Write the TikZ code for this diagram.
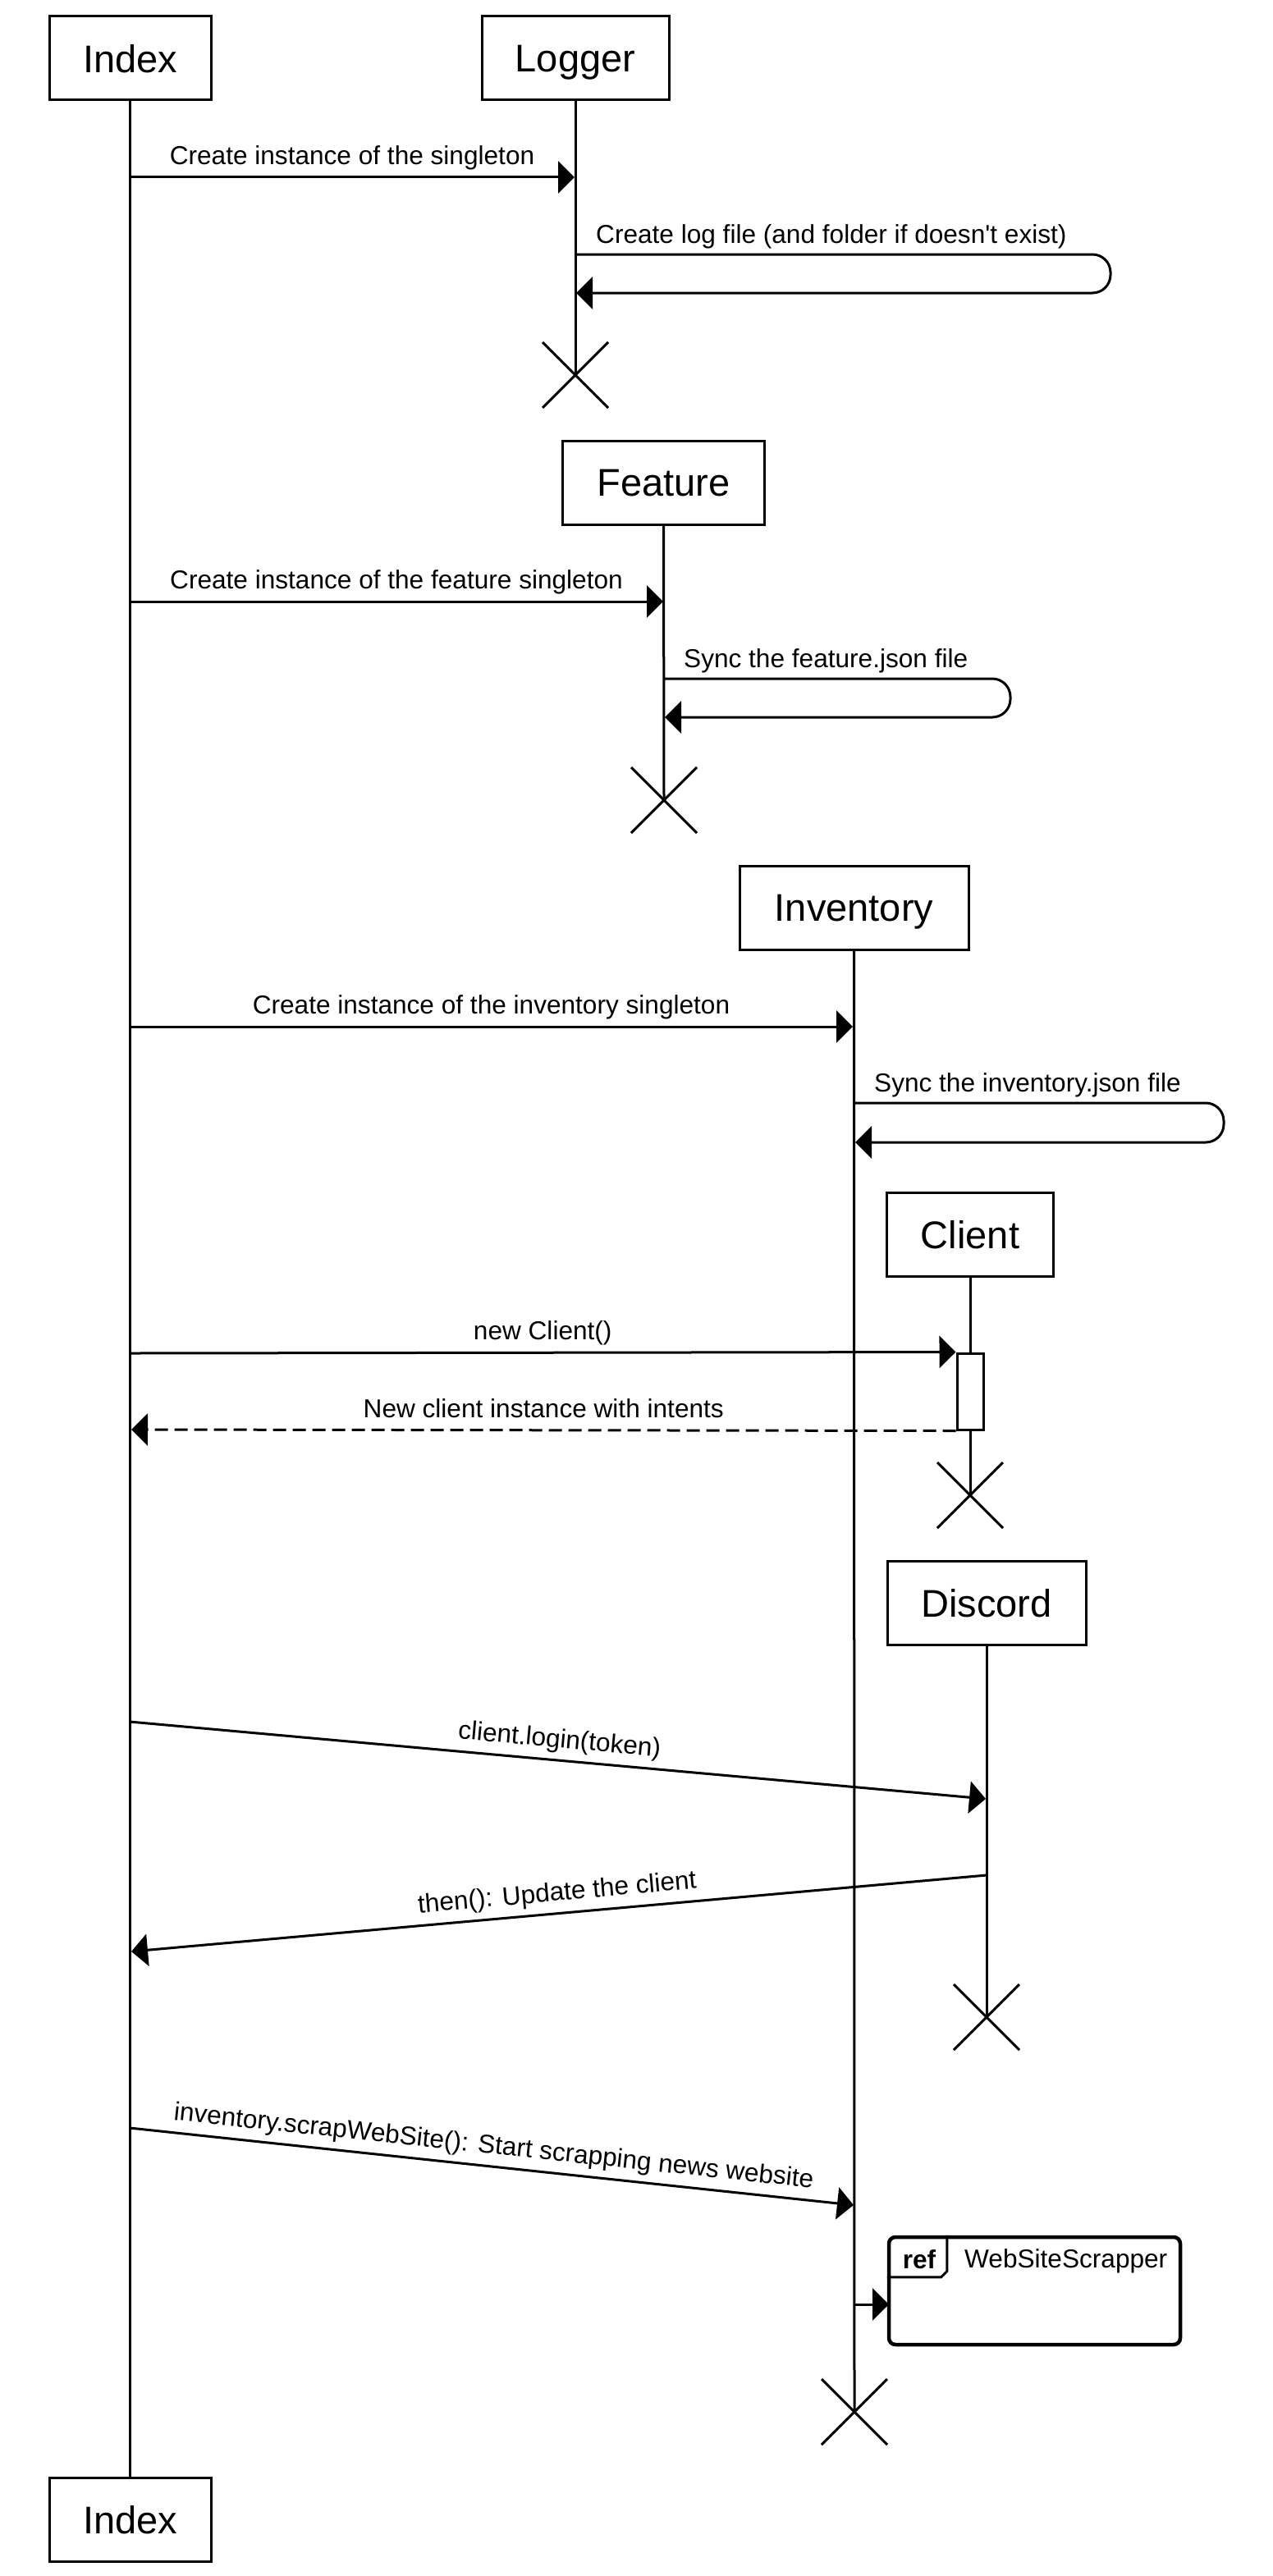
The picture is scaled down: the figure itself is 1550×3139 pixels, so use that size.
\documentclass[tikz,border=0pt]{standalone}
\usepackage{fontspec}
\setmainfont{Liberation Sans}
\usetikzlibrary{arrows.meta}
\tikzset{
  lifebox/.style={draw, line width=3pt, fill=white, minimum height=102pt, inner sep=0pt,
    text depth=0pt, font=\fontsize{47}{56}\selectfont},
  lline/.style={line width=3pt},
  msg/.style={line width=3pt, -{Triangle[length=20pt,width=39pt]}},
  retmsg/.style={msg, dash pattern=on 16pt off 8pt},
  lbl/.style={font=\fontsize{31.6}{37}\selectfont, inner sep=0pt, text depth=7pt},
  xmark/.style={line width=3pt},
}
\begin{document}
\begin{tikzpicture}[x=1pt,y=-1pt]
\useasboundingbox (0,0) rectangle (1550,3139);
\fill[white] (0,0) rectangle (1550,3139);

% lifeline heads
\node[lifebox, minimum width=197pt] (idx) at (158.5,71) {Index};
\node[lifebox, minimum width=228pt] (logger) at (701,71) {Logger};
\node[lifebox, minimum width=246pt] (feature) at (808.5,588) {Feature};
\node[lifebox, minimum width=279pt] (inv) at (1040.5,1106) {Inventory};
\node[lifebox, minimum width=203pt] (client) at (1182,1504) {Client};
\node[lifebox, minimum width=242pt] (discord) at (1202,1953.5) {Discord};
\node[lifebox, minimum width=197pt] (idxb) at (158.5,3070) {Index};

% destruction points
\coordinate (lx) at (701,457);
\coordinate (fx) at (809,975);
\coordinate (cx) at (1182,1822);
\coordinate (dx) at (1202,2458);
\coordinate (ix) at (1041,2939);

% lifelines
\draw[lline] (idx.south) -- (idxb.north);
\draw[lline] (logger.south) -- (lx);
\draw[lline] (feature.south) -- (fx);
\draw[lline] (inv.south) -- (ix);
\draw[lline] (client.south) -- (cx);
\draw[lline] (discord.south) -- (dx);

% X marks
\foreach \c in {lx,fx,cx,dx,ix}{
  \draw[xmark] (\c) ++(-40,-40) -- ++(80,80);
  \draw[xmark] (\c) ++(40,-40) -- ++(-80,80);
}

% message end points
\coordinate (a1s) at (158,216);   \coordinate (a1e) at (700,216);
\coordinate (s1a) at (701,310);   \coordinate (s1b) at (702,357);
\coordinate (a2s) at (158,733);   \coordinate (a2e) at (808,733);
\coordinate (s2a) at (809,827);   \coordinate (s2b) at (810,874);
\coordinate (a3s) at (158,1251);  \coordinate (a3e) at (1039,1251);
\coordinate (s3a) at (1041,1344); \coordinate (s3b) at (1042,1392);
\coordinate (a4s) at (158,1649);
\coordinate (a5e) at (160,1742);
\coordinate (a6s) at (158,2098);  \coordinate (a6e) at (1201,2192);
\coordinate (a7s) at (1202,2285); \coordinate (a7e) at (160,2378);
\coordinate (a8s) at (158,2593);  \coordinate (a8e) at (1040,2687);
\coordinate (a9s) at (1041,2808); \coordinate (a9e) at (1083,2808);

% activation bar
\node[draw, line width=3pt, fill=white, minimum width=32pt, minimum height=93pt, inner sep=0pt]
  (act) at (1182,1695.5) {};

% messages
\draw[msg] (a1s) -- node[lbl, midway, above=7pt] {Create instance of the singleton} (a1e);
\draw[msg, rounded corners=22pt] (s1a) -- ++(652,0) -- ++(0,47) -- (s1b);
\node[lbl, anchor=base west] (t1) at (726,296) {Create log file (and folder if doesn\textquotesingle t exist)};

\draw[msg] (a2s) -- node[lbl, midway, above=7pt] {Create instance of the feature singleton} (a2e);
\draw[msg, rounded corners=22pt] (s2a) -- ++(422,0) -- ++(0,47) -- (s2b);
\node[lbl, anchor=base west] (t2) at (833,813) {Sync the feature.json file};

\draw[msg] (a3s) -- node[lbl, midway, above=7pt] {Create instance of the inventory singleton} (a3e);
\draw[msg, rounded corners=22pt] (s3a) -- ++(450,0) -- ++(0,48) -- (s3b);
\node[lbl, anchor=base west] (t3) at (1065,1330) {Sync the inventory.json file};

\draw[msg] (a4s) -- node[lbl, midway, above=7pt] {new Client()} (act.north west);
\draw[retmsg] (act.south west) -- node[lbl, midway, above=7pt] {New client instance with intents} (a5e);

\draw[msg] (a6s) -- node[lbl, midway, sloped, above=7pt] {client.login(token)} (a6e);
\draw[msg] (a7s) -- node[lbl, midway, sloped, above=7pt] {then(): Update the client} (a7e);
\draw[msg] (a8s) -- node[lbl, midway, sloped, above=7pt] {inventory.scrapWebSite(): Start scrapping news website} (a8e);

% ref frame
\node[draw, line width=4.5pt, rounded corners=8pt, fill=white, minimum width=355pt,
  minimum height=131pt, inner sep=0pt] (ref) at (1260.5,2791.5) {};
\draw[line width=3pt] (ref.north west) ++(0,51) -- ++(66,0) -- ++(7,-7) -- ++(0,-44);
\node[lbl, font=\fontsize{31.6}{37}\selectfont\bfseries, anchor=base] (reft) at (1120,2764) {ref};
\node[lbl, anchor=base west] (refn) at (1175,2763) {WebSiteScrapper};
\draw[msg] (a9s) -- (a9e);
\end{tikzpicture}
\end{document}
